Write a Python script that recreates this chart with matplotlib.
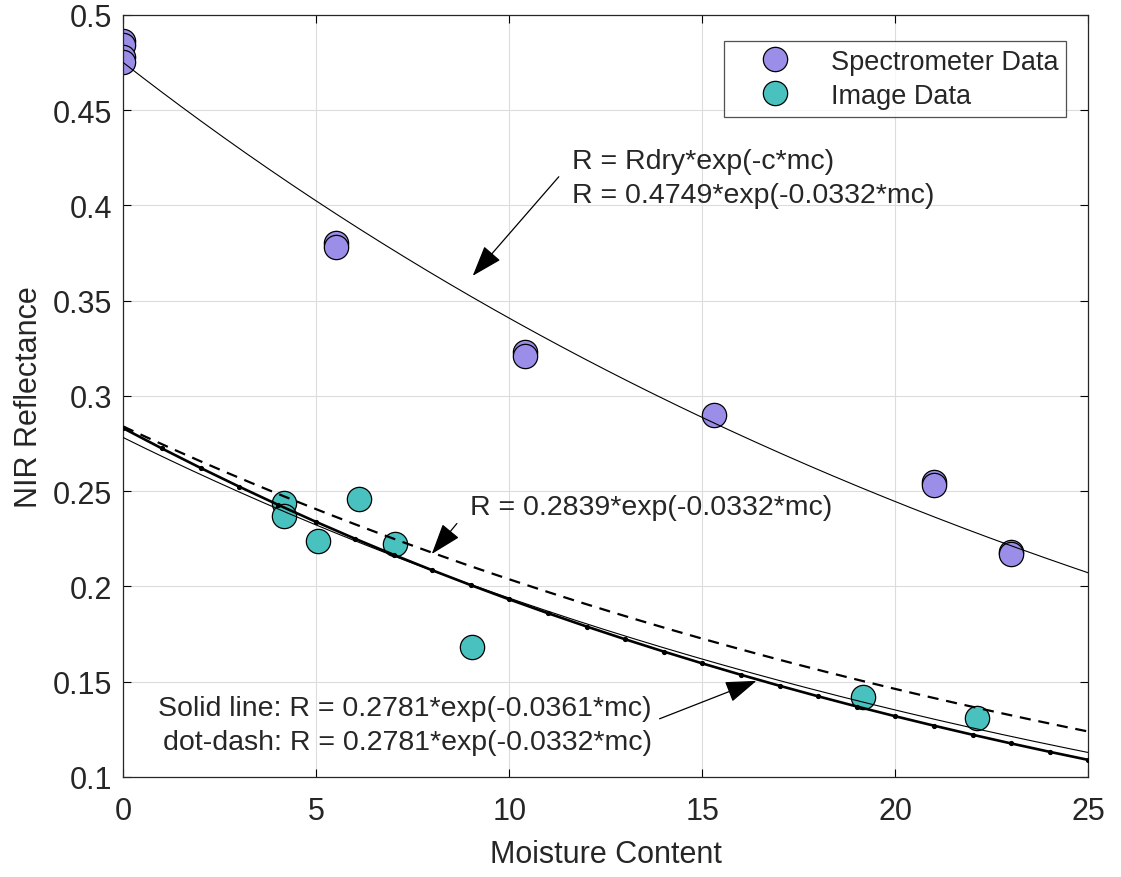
import numpy as np
import matplotlib
matplotlib.use('Agg')
import matplotlib.pyplot as plt

plt.rcParams['font.family'] = ['Liberation Sans', 'DejaVu Sans']

# measured points
spec_mc = [0, 0, 0, 0, 5.5, 5.5, 10.4, 10.4, 15.3, 21.0, 21.0, 23.0, 23.0]
spec_r = [0.486, 0.484, 0.478, 0.475, 0.380, 0.378, 0.323, 0.321, 0.290,
          0.255, 0.253, 0.218, 0.217]
img_mc = [4.16, 4.16, 5.04, 6.1, 7.03, 9.03, 19.15, 22.12]
img_r = [0.244, 0.237, 0.224, 0.246, 0.222, 0.168, 0.142, 0.131]

# fit parameters (Rdry, c)
fit_spec = (0.4749, 0.0332)
fit_dash = (0.2839, 0.0332)
fit_thin = (0.2781, 0.0361)
fit_dots = (0.2830, 0.0382)

purple = '#9a8ee8'
teal = '#48c1bf'
txt = '#262626'

fig = plt.figure(figsize=(11.21, 8.78), dpi=100)
ax = fig.add_axes([0.11, 0.114, 0.861, 0.868])

mc = np.linspace(0, 25, 300)
mc_int = np.arange(0, 26)

# points first, the fit lines are drawn over them
ax.plot(spec_mc, spec_r, 'o', ms=17.5, mfc=purple, mec='k', mew=0.9,
        label='Spectrometer Data', zorder=2)
ax.plot(img_mc, img_r, 'o', ms=17.5, mfc=teal, mec='k', mew=0.9,
        label='Image Data', zorder=2)

ax.plot(mc, fit_spec[0] * np.exp(-fit_spec[1] * mc), color='k', lw=0.8,
        zorder=3)
ax.plot(mc, fit_dash[0] * np.exp(-fit_dash[1] * mc), color='k', lw=1.6,
        ls=(0, (5, 3.5)), zorder=3)
ax.plot(mc_int, fit_dots[0] * np.exp(-fit_dots[1] * mc_int), color='k',
        lw=1.9, marker='.', ms=5.5, zorder=3)
ax.plot(mc, fit_thin[0] * np.exp(-fit_thin[1] * mc), color='k', lw=0.8,
        zorder=3)

ap = dict(arrowstyle='-|>,head_length=1.3,head_width=0.45', color='k',
          lw=0.9, shrinkA=0, shrinkB=0, mutation_scale=15)
fs = 20.5
ax.annotate('', xy=(9.05, 0.363), xytext=(11.28, 0.415), arrowprops=ap)
ax.text(11.62, 0.4143, 'R = Rdry*exp(-c*mc)\nR = 0.4749*exp(-0.0332*mc)',
        fontsize=fs, va='center', ha='left', color=txt, linespacing=1.4)

ax.annotate('', xy=(7.99, 0.217), xytext=(8.64, 0.233), arrowprops=ap)
ax.text(8.98, 0.2417, 'R = 0.2839*exp(-0.0332*mc)', fontsize=fs,
        va='center', ha='left', color=txt)

ax.annotate('', xy=(16.4, 0.1504), xytext=(13.89, 0.1305), arrowprops=ap)
ax.text(13.69, 0.1275, 'Solid line: R = 0.2781*exp(-0.0361*mc)\n'
        'dot-dash: R = 0.2781*exp(-0.0332*mc)', fontsize=fs,
        va='center', ha='right', multialignment='right', color=txt,
        linespacing=1.4)

ax.set_xlim(0, 25)
ax.set_ylim(0.1, 0.5)
ax.set_xticks([0, 5, 10, 15, 20, 25])
yt = [0.1, 0.15, 0.2, 0.25, 0.3, 0.35, 0.4, 0.45, 0.5]
ax.set_yticks(yt)
ax.set_yticklabels(['0.1', '0.15', '0.2', '0.25', '0.3', '0.35', '0.4',
                    '0.45', '0.5'])
ax.tick_params(direction='in', length=6, width=0.8, top=True, right=True,
               labelsize=22, labelcolor=txt)
ax.tick_params(axis='x', pad=14)
ax.tick_params(axis='y', pad=8)
ax.grid(True, color='#dcdcdc', lw=0.8)
ax.set_axisbelow(True)
for s in ax.spines.values():
    s.set_linewidth(0.9)
    s.set_color('#262626')

ax.set_xlabel('Moisture Content', fontsize=22, color=txt, labelpad=9)
ax.set_ylabel('NIR Reflectance', fontsize=22, color=txt, labelpad=6)

leg = ax.legend(loc='upper right', bbox_to_anchor=(0.977, 0.966),
                fontsize=19.5, frameon=True, fancybox=False,
                edgecolor='#262626', handletextpad=0.45, borderpad=0.3,
                labelspacing=0.3, handlelength=3.2, borderaxespad=0)
leg.get_frame().set_linewidth(0.9)
for t in leg.get_texts():
    t.set_color(txt)

fig.savefig('out.png', dpi=100)
